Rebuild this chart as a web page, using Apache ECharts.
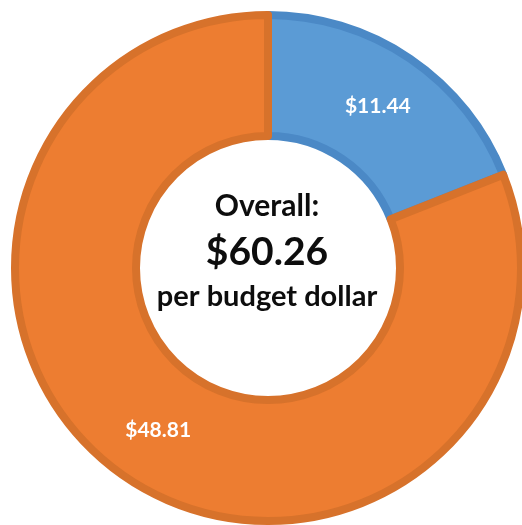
<!DOCTYPE html>
<html>
<head>
<meta charset="utf-8">
<script src="https://cdn.jsdelivr.net/npm/echarts@6/dist/echarts.min.js"></script>
<style>
  html, body { margin: 0; padding: 0; background: #ffffff; }
  #chart { width: 522px; height: 525px; }
</style>
</head>
<body>
<div id="chart"></div>
<script>
// Cost per budget dollar, split into two components
const categories = ['Component A', 'Component B'];
const values = [11.44, 48.81];
const valueLabels = ['$11.44', '$48.81'];
const centerLines = ['Overall:', '$60.26', 'per budget dollar'];

const fills = ['#5b9bd5', '#ed7d31'];
const borders = ['#4b89c6', '#d7722b'];

const chart = echarts.init(document.getElementById('chart'), null, { renderer: 'canvas' });

const font = 'Lato, "Open Sans", "DejaVu Sans", sans-serif';

chart.setOption({
  animation: false,
  series: [{
    type: 'pie',
    center: [268, 268],
    radius: [132, 253],
    startAngle: 90,
    clockwise: true,
    silent: true,
    label: {
      show: true,
      position: 'inside',
      color: '#ffffff',
      fontFamily: font,
      fontWeight: 'bold',
      fontSize: 21,
      formatter: p => valueLabels[p.dataIndex]
    },
    labelLine: { show: false },
    data: categories.map((name, i) => ({
      name,
      value: values[i],
      itemStyle: { color: fills[i], borderColor: borders[i], borderWidth: 8 }
    }))
  }],
  // Three-line caption in the hole of the ring
  graphic: [
    { type: 'text', x: 267, y: 206, style: { text: centerLines[0], fill: '#0d0d0d', font: 'bold 30px ' + font, align: 'center', verticalAlign: 'middle' } },
    { type: 'text', x: 267, y: 252, style: { text: centerLines[1], fill: '#0d0d0d', font: 'bold 39px ' + font, align: 'center', verticalAlign: 'middle' } },
    { type: 'text', x: 267, y: 297, style: { text: centerLines[2], fill: '#0d0d0d', font: 'bold 29px ' + font, align: 'center', verticalAlign: 'middle' } }
  ]
});
</script>
</body>
</html>
